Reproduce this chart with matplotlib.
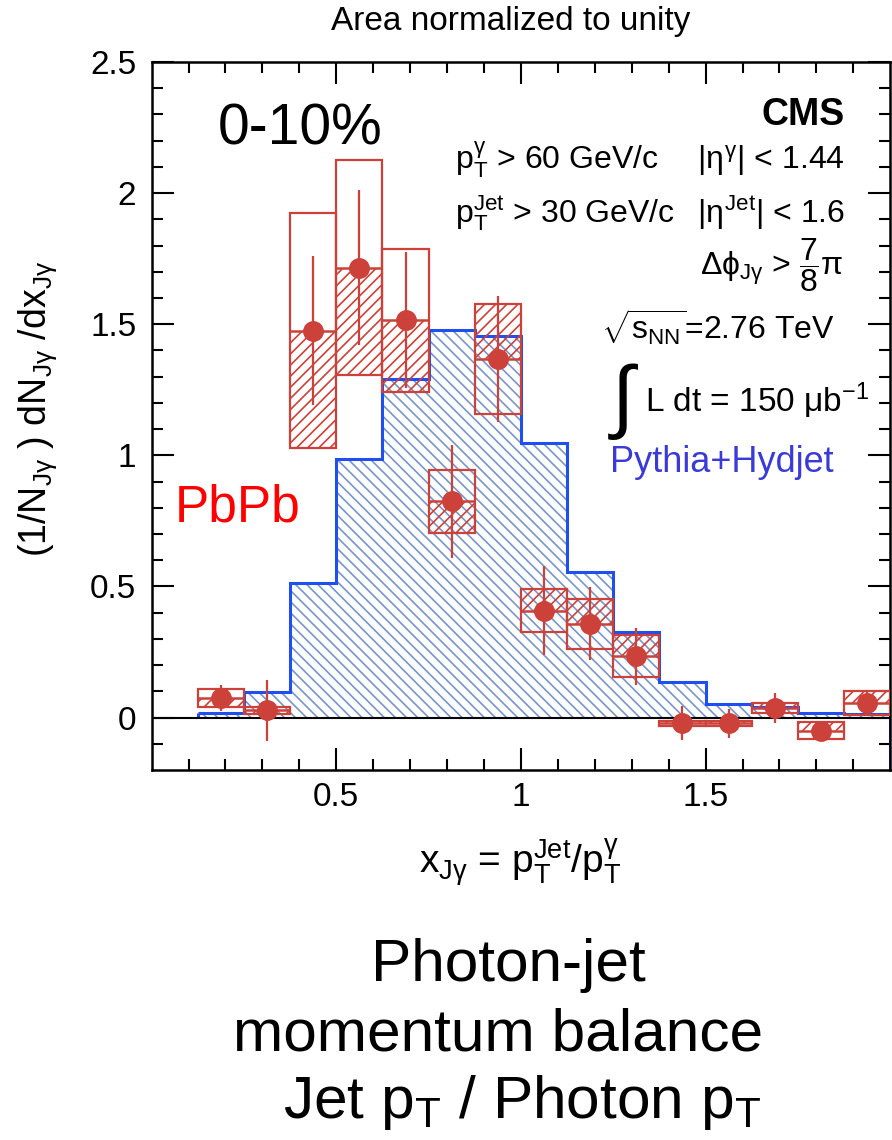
import numpy as np
import matplotlib

matplotlib.use("Agg")
import matplotlib.pyplot as plt

plt.rcParams["font.family"] = ["Liberation Sans", "DejaVu Sans"]
plt.rcParams["mathtext.fontset"] = "custom"
plt.rcParams["mathtext.rm"] = "Liberation Sans"
plt.rcParams["mathtext.it"] = "Liberation Sans"
plt.rcParams["mathtext.bf"] = "Liberation Sans:bold"
plt.rcParams["hatch.linewidth"] = 1.2

# x_Jgamma bins (width 0.125)
bin_edges = [0.125, 0.25, 0.375, 0.5, 0.625, 0.75, 0.875, 1.0, 1.125,
             1.25, 1.375, 1.5, 1.625, 1.75, 1.875, 2.0]
# Pythia+Hydjet reference histogram
mc_vals = [0.016, 0.097, 0.513, 0.987, 1.29, 1.477, 1.455, 1.046, 0.555,
           0.326, 0.135, 0.050, 0.040, 0.018, 0.012]
# PbPb 0-10% data
data_vals = [0.074, 0.027, 1.476, 1.715, 1.515, 0.824, 1.366, 0.408, 0.358,
             0.233, -0.022, -0.022, 0.036, -0.050, 0.055]
data_stat = [0.05, 0.115, 0.285, 0.295, 0.26, 0.215, 0.24, 0.17, 0.14,
             0.11, 0.065, 0.055, 0.056, 0.02, 0.05]
data_sys = [0.035, 0.013, 0.45, 0.41, 0.272, 0.12, 0.21, 0.083, 0.095,
            0.08, 0.01, 0.01, 0.019, 0.032, 0.045]
# which half of the systematic box is hatched (+1 above point, -1 below)
sys_side = [-1, -1, -1, -1, -1, -1, 1, 1, 1, 1, 1, 1, 1, 1, 1]

RED = "#cc4139"
BLUE = "#1f4ff0"
HATCH_BLUE = "#7896c8"

edges = np.array(bin_edges)
centers = 0.5 * (edges[:-1] + edges[1:])
widths = np.diff(edges)
vals = np.array(data_vals)
sys = np.array(data_sys)
side = np.array(sys_side)
ylo = -0.2

fig = plt.figure(figsize=(8.92, 11.40), dpi=100)
ax = fig.add_axes([0.170, 0.3246, 0.828, 0.621])

# MC histogram: hatch then outline
ax.stairs(mc_vals, edges, fill=True, facecolor="none", edgecolor=HATCH_BLUE,
          hatch="\\\\\\", linewidth=0, zorder=1)
ax.stairs(mc_vals, edges, baseline=None, color=BLUE, linewidth=2.2, zorder=2)
ax.vlines(edges[0], 0, mc_vals[0], color=BLUE, linewidth=2.2, zorder=2)
ax.vlines(edges[-1], ylo, mc_vals[-1], color=BLUE, linewidth=2.2, zorder=2)

ax.axhline(0, color="black", linewidth=1.5, zorder=3)

# systematic boxes
ax.bar(centers, 2 * sys, bottom=vals - sys, width=widths, fill=False,
       edgecolor=RED, linewidth=1.6, zorder=4)
ax.bar(centers, side * sys, bottom=vals, width=widths, facecolor="none",
       edgecolor=RED, hatch="///", linewidth=0, zorder=4)
ax.hlines(vals, edges[:-1], edges[1:], color=RED, linewidth=1.8, zorder=4)

# data points with stat errors
ax.errorbar(centers, vals, yerr=data_stat, fmt="o", color=RED, markersize=14,
            elinewidth=1.6, capsize=0, zorder=5)

ax.set_xlim(0, 2.0)
ax.set_ylim(ylo, 2.5)
ax.set_xticks([0.5, 1.0, 1.5])
ax.set_xticklabels(["0.5", "1", "1.5"])
ax.set_yticks([0, 0.5, 1, 1.5, 2, 2.5])
ax.set_yticklabels(["0", "0.5", "1", "1.5", "2", "2.5"])
ax.set_xticks(np.arange(0.1, 2.0, 0.1), minor=True)
ax.set_yticks(np.arange(-0.1, 2.5, 0.1), minor=True)
ax.tick_params(which="both", direction="in", top=True, right=True,
               labelsize=24, width=1.5)
ax.tick_params(axis="x", pad=9)
ax.tick_params(axis="y", pad=11)
ax.tick_params(which="major", length=16)
ax.tick_params(which="minor", length=8)
for sp in ax.spines.values():
    sp.set_linewidth(1.8)

fig.text(0.042, 0.641,
         r"(1/N$_{\mathregular{J\gamma}}$ ) dN$_{\mathregular{J\gamma}}$ /dx$_{\mathregular{J\gamma}}$",
         fontsize=27, rotation=90, ha="center", va="center")
ax.set_xlabel(r"x$_{\mathregular{J\gamma}}$ = p$_{\mathregular{T}}^{\mathregular{Jet}}$/p$_{\mathregular{T}}^{\gamma}$",
              fontsize=28)
ax.xaxis.set_label_coords(0.499, -0.095)

# annotations
ax.text(0.179, 2.244, "0-10%", fontsize=41, ha="left", va="center")
ax.text(1.878, 2.298, "CMS", fontsize=27, fontweight="bold", ha="right", va="center")
ax.text(0.821, 2.126, r"p$_{\mathregular{T}}^{\gamma}$ > 60 GeV/c", fontsize=23,
        ha="left", va="center")
ax.text(1.878, 2.126, r"|$\eta^{\gamma}$| < 1.44", fontsize=23, ha="right", va="center")
ax.text(0.821, 1.924, r"p$_{\mathregular{T}}^{\mathregular{Jet}}$ > 30 GeV/c", fontsize=23,
        ha="left", va="center")
ax.text(1.878, 1.924, r"|$\eta^{\mathregular{Jet}}$| < 1.6", fontsize=23, ha="right", va="center")
ax.text(1.872, 1.725, r"$\Delta\phi_{\mathregular{J\gamma}}$ > $\dfrac{7}{8}\pi$", fontsize=23,
        ha="right", va="center")
ax.text(1.851, 1.488, r"$\sqrt{s_{\mathregular{NN}}}$=2.76 TeV", fontsize=23,
        ha="right", va="center")
ax.text(1.235, 1.205, r"$\int$", fontsize=58, ha="left", va="center")
ax.text(1.336, 1.21, r"L dt = 150 $\mu$b$^{\mathregular{-1}}$", fontsize=24,
        ha="left", va="center")
ax.text(1.241, 0.973, "Pythia+Hydjet", fontsize=26, color="#3a3ad6",
        ha="left", va="center")
ax.text(0.062, 0.798, "PbPb", fontsize=37, color="#ff0000", ha="left", va="center")

fig.text(0.572, 0.981, "Area normalized to unity", fontsize=24, ha="center", va="center")
fig.text(0.570, 0.153, "Photon-jet", fontsize=43.5, ha="center", va="center")
fig.text(0.558, 0.092, "momentum balance", fontsize=43.5, ha="center", va="center")
fig.text(0.585, 0.033, r"Jet p$_{\mathregular{T}}$ / Photon p$_{\mathregular{T}}$",
         fontsize=43.5, ha="center", va="center")

fig.savefig("out.png", dpi=100)
plt.close(fig)
